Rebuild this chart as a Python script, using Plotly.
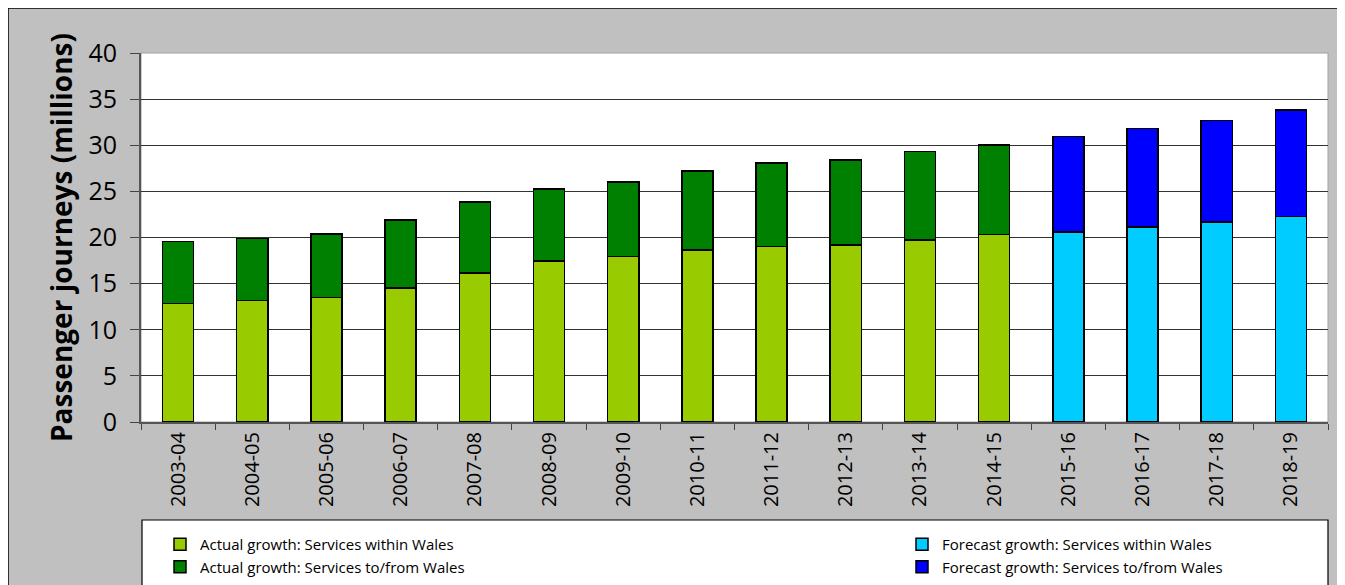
import plotly.graph_objects as go

# ---- data (millions of passenger journeys) ----
actual_years = ["2003-04", "2004-05", "2005-06", "2006-07", "2007-08", "2008-09",
                "2009-10", "2010-11", "2011-12", "2012-13", "2013-14", "2014-15"]
forecast_years = ["2015-16", "2016-17", "2017-18", "2018-19"]
actual_within = [12.85, 13.15, 13.5, 14.55, 16.15, 17.45, 17.95, 18.65, 19.0, 19.2, 19.75, 20.3]
actual_tofrom = [6.7, 6.75, 6.9, 7.35, 7.7, 7.8, 8.05, 8.55, 9.1, 9.2, 9.6, 9.75]
forecast_within = [20.6, 21.15, 21.7, 22.25]
forecast_tofrom = [10.35, 10.65, 11.0, 11.55]
y_ticks = [0, 5, 10, 15, 20, 25, 30, 35, 40]

FONT = "Open Sans"
line = dict(color="black", width=1.5)

fig = go.Figure()
fig.add_bar(x=actual_years, y=actual_within, name="Actual growth: Services within Wales",
            marker=dict(color="#99CC00", line=line), legend="legend")
fig.add_bar(x=actual_years, y=actual_tofrom, name="Actual growth: Services to/from Wales",
            marker=dict(color="#008000", line=line), legend="legend")
fig.add_bar(x=forecast_years, y=forecast_within, name="Forecast growth: Services within Wales",
            marker=dict(color="#00CCFF", line=line), legend="legend2")
fig.add_bar(x=forecast_years, y=forecast_tofrom, name="Forecast growth: Services to/from Wales",
            marker=dict(color="#0000FF", line=line), legend="legend2")

# page has an 8px body margin; target pixel coords are converted to figure coords
OFF = 8
FW, FH = 1345 - OFF, 585 - OFF
L, R, T, B = 141 - OFF, 1328 - OFF, 53 - OFF, 422 - OFF
W, H = R - L, B - T
def px(x):
    return (x - OFF - L) / W
def py(y):
    return (B - (y - OFF)) / H

shapes = [
    # grey chart area with black border
    dict(type="rect", xref="paper", yref="paper", x0=px(8), x1=px(1340), y0=py(600), y1=py(8),
         fillcolor="#C0C0C0", line=dict(color="black", width=1.5), layer="below"),
    # white plot area
    dict(type="rect", xref="paper", yref="paper", x0=0, x1=1, y0=0, y1=1,
         fillcolor="white", line=dict(color="#A0A0A0", width=1), layer="below"),
    # legend box
    dict(type="rect", xref="paper", yref="paper", x0=px(142), x1=px(1328), y0=py(600), y1=py(520),
         fillcolor="white", line=dict(color="black", width=1.2), layer="below"),
]

fig.update_layout(
    width=FW, height=FH,
    margin=dict(l=L, r=FW - R, t=T, b=FH - B, autoexpand=False),
    paper_bgcolor="white",
    plot_bgcolor="rgba(0,0,0,0)",
    barmode="stack",
    bargap=0.58,
    font=dict(family=FONT, color="black"),
    shapes=shapes,
    showlegend=True,
    legend=dict(x=px(160), y=py(528), xanchor="left", yanchor="top", orientation="v",
                bgcolor="rgba(0,0,0,0)", font=dict(size=15, family=FONT), traceorder="normal",
                itemwidth=30),
    legend2=dict(x=px(902), y=py(528), xanchor="left", yanchor="top", orientation="v",
                 bgcolor="rgba(0,0,0,0)", font=dict(size=15, family=FONT), traceorder="normal",
                 itemwidth=30),
    xaxis=dict(
        type="category",
        categoryorder="array",
        categoryarray=actual_years + forecast_years,
        tickangle=-90,
        tickfont=dict(size=20, family=FONT),
        ticks="outside", tickson="boundaries", ticklen=6, tickcolor="#444",
        showline=True, linecolor="#555", linewidth=2,
        showgrid=False,
    ),
    yaxis=dict(
        range=[0, 40],
        tickvals=y_ticks,
        tickfont=dict(size=25, family=FONT),
        ticklabelstandoff=8,
        ticks="outside", ticklen=9, tickcolor="#444",
        showline=True, linecolor="#555", linewidth=2,
        showgrid=True, gridcolor="#333", gridwidth=1,
        zeroline=False,
        title=dict(text="<b>Passenger journeys (millions)</b>", font=dict(size=28, family=FONT), standoff=8),
    ),
)

fig.write_html("out.html")
